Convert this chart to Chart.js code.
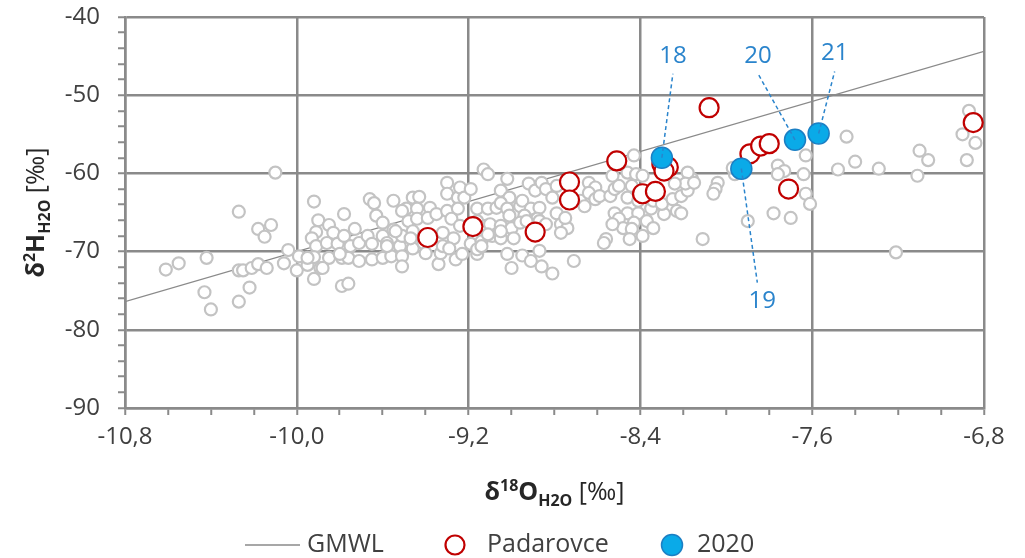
<!DOCTYPE html>
<html>
<head>
<meta charset="utf-8">
<script src="https://cdn.jsdelivr.net/npm/chart.js@4.4.1/dist/chart.umd.min.js"></script>
<style>
  html, body { margin: 0; padding: 0; background: #fff; }
</style>
</head>
<body>
<canvas id="myChart" width="1025" height="558"></canvas>
<script>
// axis ticks
const xTickValues = [-10.8, -10.0, -9.2, -8.4, -7.6, -6.8];
const xTickLabels = ['-10,8', '-10,0', '-9,2', '-8,4', '-7,6', '-6,8'];
const yTickValues = [-90, -80, -70, -60, -50, -40];
const yTickLabels = ['-90', '-80', '-70', '-60', '-50', '-40'];

// GMWL end points
const gmwlX = [-10.8, -6.8];
const gmwlY = [-76.4, -44.4];

// all other samples (grey)
const greyX = [
  -10.61, -10.55, -10.42, -10.43, -10.40, -10.27, -10.22, -10.27, -10.25, -10.21, -10.18, -10.14, -10.10, -10.27,
  -10.18, -10.12, -10.15, -10.06, -10.04, -9.99, -10.00,
  -9.95, -9.92, -9.92, -9.90, -9.91, -9.93, -9.91, -9.92, -9.89, -9.95, -9.85, -9.88, -9.85, -9.83, -9.86, -9.81,
  -9.78, -9.78, -9.79, -9.76, -9.79, -9.76, -9.75, -9.73, -9.71, -9.71, -9.67, -9.66, -9.64, -9.63, -9.65, -9.65,
  -9.60, -9.60, -9.58, -9.55, -9.55, -9.56, -9.52, -9.51, -9.51, -9.51, -9.49, -9.48, -9.46, -9.43, -9.44, -9.44,
  -9.46, -9.46, -9.41, -9.40, -9.38, -9.39, -9.35, -9.34, -9.33, -9.32, -9.32, -9.30, -9.30, -9.30, -9.28, -9.27,
  -9.29, -9.26, -9.25, -9.24, -9.25, -9.24, -9.23, -9.22, -9.19, -9.19, -9.16, -9.16, -9.16, -9.16, -9.14, -9.13,
  -9.11, -9.11, -9.12, -9.09, -9.10, -9.80, -9.60, -9.51, -9.47, -9.58, -9.54,
  -9.02, -9.05, -9.01, -9.07, -9.05, -9.02, -9.01, -8.96, -8.92, -8.95, -8.89, -8.86, -8.84, -8.79, -8.81, -8.91,
  -8.87, -8.79, -8.94, -8.88, -9.05, -9.00, -8.96, -8.93, -8.87, -8.84, -8.77, -8.74, -8.75, -9.11, -9.05, -8.99,
  -9.05, -8.77, -9.14, -8.87, -9.02, -8.95, -8.91, -8.86, -9.00, -8.81, -8.71, -8.68, -8.64, -8.61, -8.64, -8.61,
  -8.66, -8.59, -8.54, -8.52, -8.50, -8.44, -8.46, -8.41, -8.53, -8.46, -8.42, -8.43, -8.52, -8.46, -8.41, -8.50,
  -8.43, -8.48, -8.44, -8.56, -8.57, -8.45, -8.39, -8.53,
  -8.35, -8.29, -8.23, -8.37, -8.34, -8.39, -8.34, -8.30, -8.25, -8.21, -8.18, -8.16, -8.18, -8.19, -8.24, -8.15,
  -8.21, -8.11, -8.04, -8.05, -8.06, -7.96, -7.97, -7.90, -7.76, -7.73, -7.76, -7.63, -7.64, -7.63, -7.61, -7.78,
  -7.70,
  -7.44, -7.40, -7.48, -7.29, -7.10, -7.06, -7.11, -6.87, -6.90, -6.84, -6.88, -7.21
];
const greyY = [
  -72.3, -71.5, -70.8, -75.2, -77.4, -76.4, -74.6, -72.4, -72.4, -72.1, -71.6, -72.1, -59.9, -64.9,
  -67.1, -66.6, -68.1, -71.5, -69.8, -70.6, -72.4,
  -71.7, -73.5, -63.6, -66.0, -67.5, -68.3, -69.3, -70.7, -72.1, -70.8, -70.8, -72.1, -66.6, -67.6, -68.9, -69.0,
  -65.2, -68.0, -70.8, -70.8, -74.4, -74.1, -69.3, -67.1, -68.9, -71.2, -68.0, -63.3, -63.8, -65.4, -71.0, -69.0,
  -68.0, -70.8, -68.9, -63.5, -67.2, -70.6, -69.3, -70.6, -68.0, -71.9, -64.5, -66.1, -63.1, -63.0, -64.5, -65.8,
  -67.4, -69.6, -68.9, -70.2, -64.4, -65.7, -65.2, -71.6, -70.2, -69.3, -67.6, -61.2, -62.6, -64.8, -65.8, -68.3,
  -69.6, -71.0, -63.1, -61.8, -64.5, -66.7, -70.3, -63.1, -62.0, -69.0, -64.5, -70.3, -66.1, -69.7, -68.7, -59.5,
  -60.1, -64.5, -66.7, -68.0, -66.5, -70.3, -66.3, -64.8, -68.3, -69.3, -67.4,
  -60.7, -62.2, -63.1, -64.4, -63.8, -64.5, -65.4, -64.2, -61.3, -63.5, -62.2, -61.2, -62.0, -61.6, -63.1, -64.5,
  -64.4, -65.1, -65.4, -65.8, -66.7, -67.0, -66.3, -66.1, -66.1, -66.5, -66.5, -67.0, -65.7, -67.8, -68.3, -68.3,
  -67.4, -67.6, -69.3, -69.9, -70.3, -70.5, -71.2, -71.9, -72.1, -72.8, -71.2, -63.5, -61.2, -61.8, -62.5, -63.3,
  -64.2, -62.9, -62.9, -62.0, -61.6, -61.6, -63.1, -63.5, -60.3, -59.9, -60.1, -57.7, -65.1, -65.1, -65.1, -65.8,
  -66.3, -67.0, -67.1, -68.4, -68.9, -68.4, -68.0, -66.5,
  -64.5, -65.2, -64.8, -66.1, -67.0, -60.3, -63.5, -63.9, -63.3, -62.9, -62.2, -60.7, -59.9, -61.3, -61.3, -61.2,
  -65.1, -68.4, -61.2, -62.0, -62.6, -60.1, -59.3, -66.1, -59.0, -59.7, -60.1, -57.7, -60.1, -62.6, -63.9, -65.1,
  -65.7,
  -55.3, -58.5, -59.5, -59.4, -57.1, -58.3, -60.3, -52.0, -55.0, -56.1, -58.3, -70.1
];

// Padarovce
const padX = [-9.39, -9.18, -8.89, -8.73, -8.73, -8.51, -8.39, -8.33, -8.30, -8.27, -8.29, -8.08, -7.89, -7.84, -7.80, -7.71, -6.85];
const padY = [-68.2, -66.8, -67.5, -61.1, -63.4, -58.4, -62.6, -62.3, -58.8, -59.2, -59.7, -51.6, -57.5, -56.5, -56.2, -62.0, -53.5];

// 2020 samples
const y2020X = [-8.30, -7.93, -7.68, -7.57];
const y2020Y = [-58.0, -59.4, -55.7, -54.9];
const y2020Labels = ['18', '19', '20', '21'];

const legendNames = ['GMWL', 'Padarovce', '2020'];

const FONT = '"Open Sans", "DejaVu Sans", sans-serif';
const GRID = '#8a8a8a';
const TXT = '#404040';
const RED = '#c00000';
const BLUE_FILL = '#0aaae8';
const BLUE_LINE = '#1b7fc4';
const LABEL_BLUE = '#2a84cc';

function pts(xs, ys) {
  return xs.map((x, i) => ({ x: x, y: ys[i] }));
}
function isMajor(v, list) {
  return list.some(t => Math.abs(t - v) < 1e-6);
}
function labelFor(v, vals, labels) {
  const i = vals.findIndex(t => Math.abs(t - v) < 1e-6);
  return i < 0 ? '' : labels[i];
}

// draws text with sub/superscripts, centered on x
function richText(ctx, parts, x, y) {
  let total = 0;
  parts.forEach(p => {
    ctx.font = (p.bold ? 'bold ' : '') + p.size + 'px ' + FONT;
    p.w = ctx.measureText(p.t).width;
    total += p.w;
  });
  let cx = x - total / 2;
  parts.forEach(p => {
    ctx.font = (p.bold ? 'bold ' : '') + p.size + 'px ' + FONT;
    ctx.fillText(p.t, cx, y + (p.dy || 0));
    cx += p.w;
  });
}

const extras = {
  id: 'extras',
  afterDatasetsDraw(chart) {
    const ctx = chart.ctx;
    const meta = chart.getDatasetMeta(2);
    const off = [[11, -102], [21, 132], [-37, -84], [16, -80]];
    ctx.save();
    ctx.strokeStyle = LABEL_BLUE;
    ctx.fillStyle = LABEL_BLUE;
    ctx.lineWidth = 1.5;
    ctx.font = '24px ' + FONT;
    ctx.textAlign = 'center';
    ctx.textBaseline = 'middle';
    meta.data.forEach((el, i) => {
      const lx = el.x + off[i][0];
      const ly = el.y + off[i][1];
      const up = off[i][1] < 0;
      ctx.setLineDash([4, 3]);
      ctx.beginPath();
      ctx.moveTo(el.x, el.y);
      ctx.lineTo(lx + (up ? 0 : -5), ly + (up ? 18 : -18));
      ctx.stroke();
      ctx.setLineDash([]);
      ctx.fillText(y2020Labels[i], lx, ly);
    });
    ctx.restore();
  },
  afterDraw(chart) {
    const ctx = chart.ctx;
    const area = chart.chartArea;
    ctx.save();
    ctx.fillStyle = '#262626';
    ctx.textBaseline = 'alphabetic';
    // x title
    richText(ctx, [
      { t: 'δ', size: 25, bold: true },
      { t: '18', size: 16, bold: true, dy: -9 },
      { t: 'O', size: 25, bold: true },
      { t: 'H2O', size: 16, bold: true, dy: 6 },
      { t: ' [‰]', size: 25 }
    ], (area.left + area.right) / 2, 500);
    // y title
    ctx.translate(44, (area.top + area.bottom) / 2);
    ctx.rotate(-Math.PI / 2);
    richText(ctx, [
      { t: 'δ', size: 25, bold: true },
      { t: '2', size: 16, bold: true, dy: -9 },
      { t: 'H', size: 25, bold: true },
      { t: 'H2O', size: 16, bold: true, dy: 6 },
      { t: ' [‰]', size: 25 }
    ], 0, 0);
    ctx.restore();

    // legend
    ctx.save();
    const ly = 545;
    ctx.font = '25px ' + FONT;
    ctx.fillStyle = TXT;
    ctx.textBaseline = 'middle';
    ctx.strokeStyle = GRID;
    ctx.lineWidth = 1.5;
    ctx.beginPath();
    ctx.moveTo(245, ly);
    ctx.lineTo(300, ly);
    ctx.stroke();
    ctx.fillText(legendNames[0], 307, ly);
    ctx.beginPath();
    ctx.arc(455, ly, 9.5, 0, Math.PI * 2);
    ctx.fillStyle = '#fff';
    ctx.fill();
    ctx.strokeStyle = RED;
    ctx.lineWidth = 2.2;
    ctx.stroke();
    ctx.fillStyle = TXT;
    ctx.fillText(legendNames[1], 487, ly);
    ctx.beginPath();
    ctx.arc(672, ly, 10.5, 0, Math.PI * 2);
    ctx.fillStyle = BLUE_FILL;
    ctx.fill();
    ctx.strokeStyle = BLUE_LINE;
    ctx.lineWidth = 1.5;
    ctx.stroke();
    ctx.fillStyle = TXT;
    ctx.fillText(legendNames[2], 697, ly);
    ctx.restore();
  }
};

const ctx = document.getElementById('myChart');

new Chart(ctx, {
  type: 'scatter',
  data: {
    datasets: [
      {
        label: legendNames[0],
        data: pts(gmwlX, gmwlY),
        showLine: true,
        borderColor: GRID,
        borderWidth: 1.3,
        pointRadius: 0,
        order: 3
      },
      {
        label: legendNames[1],
        data: pts(padX, padY),
        pointRadius: 9.5,
        pointBorderWidth: 2.2,
        pointBorderColor: RED,
        pointBackgroundColor: '#fff',
        order: 1
      },
      {
        label: legendNames[2],
        data: pts(y2020X, y2020Y),
        pointRadius: 10.5,
        pointBorderWidth: 1.5,
        pointBorderColor: BLUE_LINE,
        pointBackgroundColor: BLUE_FILL,
        order: 0
      },
      {
        label: 'other',
        data: pts(greyX, greyY),
        pointRadius: 6,
        pointBorderWidth: 2.2,
        pointBorderColor: '#c3c3c3',
        pointBackgroundColor: '#fff',
        order: 2
      }
    ]
  },
  options: {
    responsive: false,
    animation: false,
    layout: { padding: { top: 17, right: 41, left: 0, bottom: 0 } },
    plugins: {
      legend: { display: false },
      tooltip: { enabled: false }
    },
    scales: {
      x: {
        type: 'linear',
        min: -10.8,
        max: -6.8,
        afterFit: s => { s.height = 150; s.paddingLeft = 0; s.paddingRight = 0; },
        ticks: {
          stepSize: 0.2,
          autoSkip: false,
          maxRotation: 0,
          padding: 8,
          color: TXT,
          font: { family: FONT, size: 24 },
          callback: v => labelFor(v, xTickValues, xTickLabels)
        },
        grid: {
          color: c => isMajor(c.tick.value, xTickValues) ? GRID : 'rgba(0,0,0,0)',
          lineWidth: 2.5,
          tickColor: GRID,
          tickWidth: 2,
          tickLength: 7
        },
        border: { color: GRID, width: 2.5 }
      },
      y: {
        type: 'linear',
        min: -90,
        max: -40,
        afterFit: s => { s.width = 125; s.paddingTop = 0; s.paddingBottom = 0; },
        ticks: {
          stepSize: 2,
          autoSkip: false,
          padding: 18,
          color: TXT,
          font: { family: FONT, size: 24 },
          callback: v => labelFor(v, yTickValues, yTickLabels)
        },
        grid: {
          color: c => isMajor(c.tick.value, yTickValues) ? GRID : 'rgba(0,0,0,0)',
          lineWidth: 2.5,
          tickColor: GRID,
          tickWidth: 2,
          tickLength: 7
        },
        border: { color: GRID, width: 2.5 }
      }
    }
  },
  plugins: [extras]
});
</script>
</body>
</html>
